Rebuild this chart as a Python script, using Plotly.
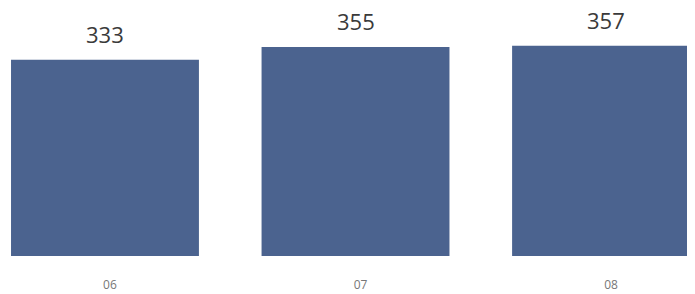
import plotly.graph_objects as go

categories = ["06", "07", "08"]
values = [333, 355, 357]

bar_color = "#4B638F"

# The page body has an 8px margin, so the figure is sized and laid out
# to start at (8, 8) within the 695x294 window.
fig = go.Figure()
fig.add_trace(go.Bar(
    x=categories,
    y=values,
    width=0.75,
    marker=dict(color=bar_color, line=dict(width=0)),
    hoverinfo="skip",
))

for i, (c, v) in enumerate(zip(categories, values)):
    fig.add_annotation(
        xref="x", yref="y",
        x=i, y=v, text=str(v), showarrow=False,
        yanchor="middle", yshift=26,
        font=dict(family="Open Sans", size=22, color="#3a3a3a"),
    )

fig.update_layout(
    width=687, height=286,
    margin=dict(l=0, r=0, t=0, b=38),
    paper_bgcolor="white", plot_bgcolor="white",
    showlegend=False,
    xaxis=dict(
        type="category",
        range=[-0.419 - 8 / 250.5 * 0 + 8 / 250.5, 2.355],
        showgrid=False, zeroline=False, showline=False,
        ticks="",
        tickfont=dict(family="Open Sans", size=12, color="#777777"),
        ticklabelstandoff=20,
        ticklabelshift=5,
    ),
    yaxis=dict(
        range=[0, (256 - 8) / 0.589],
        showgrid=False, zeroline=False, showline=False,
        showticklabels=False, ticks="",
    ),
)

fig.write_html("out.html")
